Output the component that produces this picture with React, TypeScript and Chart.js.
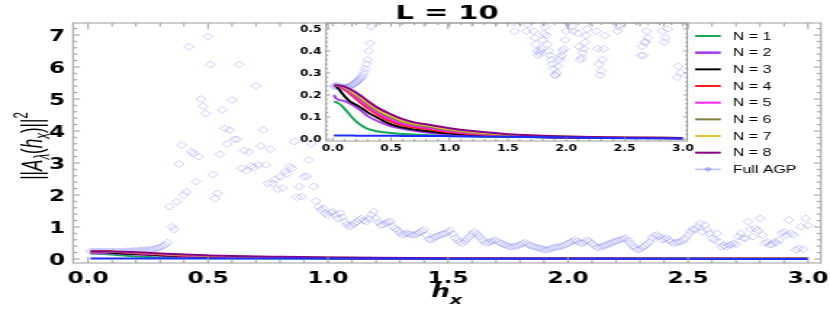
import React, { useEffect, useRef } from 'react';
import { Chart, registerables } from 'chart.js';
Chart.register(...registerables);

// horizontal stretch of the figure (internal canvas width 572 shown at 830 px)
const S = 830 / 572;

const TITLE = 'L = 10';
const X_TICKS = [0, 0.5, 1, 1.5, 2, 2.5, 3];
const Y_TICKS = [0, 1, 2, 3, 4, 5, 6, 7];
const INSET_X_TICKS = [0, 0.5, 1, 1.5, 2, 2.5, 3];
const INSET_Y_TICKS = [0, 0.1, 0.2, 0.3, 0.4, 0.5];

// h_x sample positions of the N-curves
const H_LINE = [0.01, 0.03, 0.05, 0.08, 0.1, 0.15, 0.2, 0.25, 0.3, 0.4, 0.5, 0.6, 0.7, 0.8, 1.0, 1.2, 1.5, 2.0, 2.5, 3.0];
const N1 = [0.170, 0.168, 0.162, 0.150, 0.138, 0.108, 0.080, 0.060, 0.046, 0.033, 0.027, 0.023, 0.020, 0.018, 0.014, 0.012, 0.010, 0.007, 0.005, 0.004];
const N2 = [0.200, 0.184, 0.178, 0.175, 0.172, 0.160, 0.144, 0.126, 0.104, 0.078, 0.058, 0.046, 0.037, 0.030, 0.021, 0.016, 0.011, 0.007, 0.005, 0.004];
const N3 = [0.242, 0.240, 0.228, 0.208, 0.195, 0.170, 0.156, 0.140, 0.121, 0.092, 0.066, 0.052, 0.043, 0.036, 0.025, 0.018, 0.012, 0.007, 0.005, 0.004];
const N4 = [0.243, 0.242, 0.240, 0.233, 0.226, 0.204, 0.182, 0.160, 0.139, 0.105, 0.079, 0.062, 0.052, 0.045, 0.031, 0.022, 0.014, 0.008, 0.005, 0.004];
const N5 = [0.243, 0.242, 0.241, 0.236, 0.230, 0.211, 0.189, 0.168, 0.147, 0.113, 0.088, 0.069, 0.058, 0.051, 0.035, 0.025, 0.016, 0.009, 0.006, 0.004];
const N6 = [0.243, 0.243, 0.242, 0.238, 0.234, 0.218, 0.198, 0.178, 0.157, 0.122, 0.097, 0.077, 0.064, 0.057, 0.040, 0.029, 0.018, 0.010, 0.006, 0.005];
const N7 = [0.243, 0.243, 0.242, 0.239, 0.236, 0.222, 0.204, 0.185, 0.164, 0.129, 0.104, 0.083, 0.069, 0.062, 0.044, 0.032, 0.020, 0.011, 0.007, 0.005];
const N8 = [0.243, 0.243, 0.243, 0.240, 0.238, 0.226, 0.211, 0.193, 0.173, 0.138, 0.112, 0.090, 0.075, 0.067, 0.049, 0.036, 0.022, 0.012, 0.007, 0.005];
const BLUE = [0.016, 0.016, 0.016, 0.016, 0.016, 0.016, 0.015, 0.015, 0.015, 0.015, 0.015, 0.014, 0.014, 0.014, 0.013, 0.012, 0.010, 0.007, 0.004, 0.002];

// Full AGP, h_x = 0.01 ... 3.00 in steps of 0.01
const AGP_H = Array.from({ length: 300 }, (_, i) => (i + 1) / 100);
const AGP = [
  0.240, 0.241, 0.241, 0.240, 0.239, 0.238, 0.236, 0.235, 0.234, 0.234,
  0.234, 0.235, 0.236, 0.238, 0.240, 0.243, 0.246, 0.249, 0.253, 0.257,
  0.262, 0.267, 0.272, 0.276, 0.282, 0.292, 0.305, 0.320, 0.340, 0.360,
  0.400, 0.435, 0.510, 1.64, 1.01, 0.92, 1.79, 2.97, 3.56, 2.00,
  2.10, 6.63, 3.35, 3.30, 2.42, 3.20, 5.00, 4.78, 4.55, 6.95,
  6.08, 2.64, 1.90, 2.05, 3.27, 4.66, 4.08, 3.59, 4.03, 4.97,
  3.74, 3.74, 6.08, 2.83, 3.39, 2.76, 3.35, 2.91, 2.86, 5.41,
  2.94, 3.53, 4.03, 2.94, 2.36, 3.43, 2.36, 2.49, 2.18, 2.57,
  2.21, 2.73, 2.66, 2.89, 2.83, 3.67, 1.93, 2.26, 1.95, 2.57,
  2.59, 3.09, 3.60, 2.27, 1.81, 1.63, 1.53, 1.58, 1.43, 1.37,
  1.45, 1.48, 1.38, 1.27, 1.43, 1.30, 1.17, 1.08, 1.01, 1.05,
  1.11, 1.16, 1.22, 1.27, 1.20, 1.17, 1.26, 1.38, 1.48, 1.27,
  1.15, 1.06, 1.08, 1.12, 1.16, 1.17, 1.01, 0.95, 0.90, 0.82,
  0.75, 0.78, 0.80, 0.78, 0.76, 0.75, 0.78, 0.82, 0.87, 0.91,
  0.75, 0.62, 0.60, 0.65, 0.70, 0.73, 0.76, 0.78, 0.80, 0.85,
  0.89, 0.78, 0.66, 0.59, 0.53, 0.49, 0.55, 0.63, 0.70, 0.78,
  0.85, 0.78, 0.70, 0.62, 0.55, 0.49, 0.52, 0.55, 0.57, 0.59,
  0.54, 0.49, 0.46, 0.43, 0.40, 0.38, 0.39, 0.40, 0.41, 0.45,
  0.48, 0.51, 0.47, 0.43, 0.40, 0.38, 0.36, 0.34, 0.32, 0.29,
  0.29, 0.30, 0.33, 0.36, 0.37, 0.38, 0.40, 0.41, 0.45, 0.49,
  0.53, 0.56, 0.59, 0.55, 0.51, 0.49, 0.54, 0.59, 0.55, 0.48,
  0.42, 0.36, 0.37, 0.39, 0.41, 0.44, 0.47, 0.50, 0.54, 0.56,
  0.58, 0.61, 0.63, 0.65, 0.58, 0.49, 0.41, 0.34, 0.29, 0.31,
  0.36, 0.41, 0.47, 0.54, 0.66, 0.72, 0.75, 0.70, 0.59, 0.62,
  0.65, 0.60, 0.54, 0.49, 0.51, 0.52, 0.54, 0.59, 0.65, 0.75,
  0.85, 0.93, 0.91, 1.01, 1.11, 0.85, 1.06, 0.91, 0.80, 0.65,
  0.59, 0.80, 0.54, 0.38, 0.42, 0.38, 0.44, 0.44, 0.49, 0.46,
  0.70, 0.80, 0.65, 0.65, 1.17, 0.93, 0.70, 0.96, 0.90, 1.27,
  0.75, 0.49, 0.54, 0.44, 0.46, 0.54, 0.50, 0.59, 0.80, 0.85,
  0.75, 1.22, 0.80, 0.75, 0.28, 0.33, 1.01, 0.30, 1.27, 1.05,
];

const SERIES_LABELS = ['N = 1', 'N = 2', 'N = 3', 'N = 4', 'N = 5', 'N = 6', 'N = 7', 'N = 8'];
const SERIES_VALUES = [N1, N2, N3, N4, N5, N6, N7, N8];
const SERIES_COLORS = ['#17a85a', '#a83cf0', '#000000', '#ff1a1a', '#ff20ff', '#808040', '#e6c43a', '#8b008b'];
const BLUE_COLOR = '#1a2eff';
const AGP_LABEL = 'Full AGP';
const AGP_COLOR = 'rgba(125,125,255,0.38)';

function buildDatasets(): any[] {
  const ds: any[] = SERIES_VALUES.map((vals, i) => ({
    label: SERIES_LABELS[i],
    data: H_LINE.map((h, j) => ({ x: h, y: vals[j] })),
    showLine: true,
    borderColor: SERIES_COLORS[i],
    backgroundColor: SERIES_COLORS[i],
    borderWidth: 2,
    pointRadius: 0,
    cubicInterpolationMode: 'monotone',
    order: 20 - i,
  }));
  ds.push({
    label: '',
    data: H_LINE.map((h, j) => ({ x: h, y: BLUE[j] })),
    showLine: true,
    borderColor: BLUE_COLOR,
    borderWidth: 2,
    pointRadius: 0,
    cubicInterpolationMode: 'monotone',
    order: 1,
  });
  ds.push({
    label: AGP_LABEL,
    data: AGP_H.map((h, j) => ({ x: h, y: AGP[j] })),
    showLine: false,
    pointStyle: 'rectRot',
    pointRadius: 3.4,
    pointBorderWidth: 1,
    borderColor: AGP_COLOR,
    pointBorderColor: AGP_COLOR,
    pointBackgroundColor: 'rgba(0,0,0,0)',
    backgroundColor: 'rgba(0,0,0,0)',
    order: 100,
  });
  return ds;
}

function framePlugin(cfg: any) {
  return {
    id: 'frame_' + cfg.name,
    afterDatasetsDraw(chart: any) {
      const ctx = chart.ctx;
      const a = chart.chartArea;
      const xs = chart.scales.x;
      const ys = chart.scales.y;
      ctx.save();
      ctx.strokeStyle = cfg.frameColor;
      ctx.lineWidth = 1;
      ctx.strokeRect(a.left, a.top, a.right - a.left, a.bottom - a.top);
      ctx.beginPath();
      const x0 = Math.ceil(xs.min / cfg.xMinor - 1e-6);
      const x1 = Math.floor(xs.max / cfg.xMinor + 1e-6);
      for (let k = x0; k <= x1; k++) {
        const v = k * cfg.xMinor;
        const maj = cfg.xTicks.some((t: number) => Math.abs(t - v) < 1e-6);
        const L = maj ? cfg.vMajor : cfg.vMinor;
        const px = xs.getPixelForValue(v);
        ctx.moveTo(px, a.bottom);
        ctx.lineTo(px, a.bottom - L);
        ctx.moveTo(px, a.top);
        ctx.lineTo(px, a.top + L);
      }
      const y0 = Math.ceil(ys.min / cfg.yMinor - 1e-6);
      const y1 = Math.floor(ys.max / cfg.yMinor + 1e-6);
      for (let k = y0; k <= y1; k++) {
        const v = k * cfg.yMinor;
        const maj = cfg.yTicks.some((t: number) => Math.abs(t - v) < 1e-6);
        const L = maj ? cfg.hMajor : cfg.hMinor;
        const py = ys.getPixelForValue(v);
        ctx.moveTo(a.left, py);
        ctx.lineTo(a.left + L, py);
        ctx.moveTo(a.right, py);
        ctx.lineTo(a.right - L, py);
      }
      ctx.stroke();
      ctx.fillStyle = '#000';
      ctx.font = cfg.font;
      ctx.textAlign = 'center';
      ctx.textBaseline = 'alphabetic';
      cfg.xTicks.forEach((t: number) => ctx.fillText(cfg.xFmt(t), xs.getPixelForValue(t), cfg.xLabelY));
      ctx.textAlign = 'right';
      cfg.yTicks.forEach((t: number) => ctx.fillText(cfg.yFmt(t), cfg.yLabelX, ys.getPixelForValue(t) + cfg.yLabelDy));
      ctx.restore();
    },
  };
}

const decorPlugin = {
  id: 'mainDecor',
  afterDraw(chart: any) {
    const ctx = chart.ctx;
    const a = chart.chartArea;
    ctx.save();
    ctx.fillStyle = '#000';
    // title
    ctx.font = 'bold 20px "DejaVu Sans"';
    ctx.textAlign = 'center';
    ctx.textBaseline = 'alphabetic';
    ctx.fillText(TITLE, (a.left + a.right) / 2, 18.5);
    // x title
    ctx.textAlign = 'left';
    const fh = 'italic bold 18px "DejaVu Sans"';
    const fx = 'italic bold 13px "DejaVu Sans"';
    ctx.font = fh;
    const wh = ctx.measureText('h').width;
    ctx.font = fx;
    const wx = ctx.measureText('x').width;
    const cx = 446.7 / S;
    const sx = cx - (wh + wx) / 2;
    ctx.font = fh;
    ctx.fillText('h', sx, 297);
    ctx.font = fx;
    ctx.fillText('x', sx + wh, 304);
    // y title (rotated)
    const big = '17px "Liberation Sans"';
    const bigI = 'italic 17px "Liberation Sans"';
    const sm = '11.5px "Liberation Sans"';
    const smI = 'italic 11.5px "Liberation Sans"';
    const pieces = [
      { t: '||', f: big, dy: 0 },
      { t: 'A', f: bigI, dy: 0 },
      { t: 'λ', f: smI, dy: 4 },
      { t: '(', f: big, dy: 0 },
      { t: 'h', f: bigI, dy: 0 },
      { t: 'x', f: smI, dy: 4 },
      { t: ')||', f: big, dy: 0 },
      { t: '2', f: sm, dy: -8 },
    ];
    let total = 0;
    const widths = pieces.map((p) => {
      ctx.font = p.f;
      const w = ctx.measureText(p.t).width;
      total += w;
      return w;
    });
    ctx.translate(42 / S, 146);
    ctx.rotate(-Math.PI / 2);
    ctx.scale(1, 1.22);
    let px = -total / 2;
    pieces.forEach((p, i) => {
      ctx.font = p.f;
      ctx.fillText(p.t, px, p.dy);
      px += widths[i];
    });
    ctx.setTransform(1, 0, 0, 1, 0, 0);
    // legend
    const ds = chart.data.datasets;
    const sw0 = 695 / S;
    const sw1 = 720.7 / S;
    const tx = 732.7 / S;
    ctx.font = '11px "Liberation Sans"';
    ctx.textBaseline = 'middle';
    ctx.textAlign = 'left';
    const entries = ds.filter((d: any) => d.label);
    entries.forEach((d: any, i: number) => {
      const y = 36 + i * 16.67;
      ctx.beginPath();
      ctx.moveTo(sw0, y);
      ctx.lineTo(sw1, y);
      ctx.strokeStyle = d.showLine ? d.borderColor : 'rgba(125,125,255,0.5)';
      ctx.lineWidth = d.showLine ? (d.label === 'N = 2' ? 2.6 : 2) : 1.5;
      ctx.stroke();
      if (!d.showLine) {
        const mx = (sw0 + sw1) / 2;
        ctx.beginPath();
        ctx.moveTo(mx - 2.2, y);
        ctx.lineTo(mx, y - 2.2);
        ctx.lineTo(mx + 2.2, y);
        ctx.lineTo(mx, y + 2.2);
        ctx.closePath();
        ctx.fillStyle = 'rgba(125,125,255,0.5)';
        ctx.fill();
        ctx.lineWidth = 1;
        ctx.stroke();
      }
      ctx.fillStyle = '#000';
      ctx.fillText(d.label, tx, y + 0.5);
    });
    ctx.restore();
  },
};

export default function App() {
  const mainRef = useRef<HTMLCanvasElement>(null);
  const insetRef = useRef<HTMLCanvasElement>(null);

  useEffect(() => {
    const mainCfg = {
      name: 'main',
      frameColor: '#9c9c9c',
      xTicks: X_TICKS,
      yTicks: Y_TICKS,
      xMinor: 0.1,
      yMinor: 0.2,
      vMajor: 6,
      vMinor: 3.5,
      hMajor: 4.8,
      hMinor: 2.8,
      font: 'bold 16px "DejaVu Sans"',
      xLabelY: 282.7,
      yLabelX: 65 / S,
      yLabelDy: 5.8,
      xFmt: (v: number) => v.toFixed(1),
      yFmt: (v: number) => String(v),
    };
    const insetCfg = {
      name: 'inset',
      frameColor: '#9c9c9c',
      xTicks: INSET_X_TICKS,
      yTicks: INSET_Y_TICKS,
      xMinor: 0.1,
      yMinor: 0.02,
      vMajor: 3.5,
      vMinor: 2,
      hMajor: 2.8,
      hMinor: 1.5,
      font: 'bold 8.5px "DejaVu Sans"',
      xLabelY: 136.4,
      yLabelX: 28.7,
      yLabelDy: 3.1,
      xFmt: (v: number) => v.toFixed(1),
      yFmt: (v: number) => v.toFixed(1),
    };
    const common = (padding: any, xr: number[], yr: number[]) => ({
      animation: false as const,
      responsive: false,
      devicePixelRatio: 1,
      layout: { padding },
      scales: {
        x: { type: 'linear' as const, min: xr[0], max: xr[1], display: false },
        y: { type: 'linear' as const, min: yr[0], max: yr[1], display: false },
      },
      plugins: { legend: { display: false }, tooltip: { enabled: false }, title: { display: false } },
      events: [] as any[],
    });
    const main = new Chart(mainRef.current as HTMLCanvasElement, {
      type: 'scatter',
      data: { datasets: buildDatasets() },
      options: common({ left: 73 / S, right: 572 - 821 / S, top: 23, bottom: 48 }, [-0.0625, 3.0542], [-0.125, 7.375]) as any,
      plugins: [framePlugin(mainCfg), decorPlugin],
    });
    const inset = new Chart(insetRef.current as HTMLCanvasElement, {
      type: 'scatter',
      data: { datasets: buildDatasets() },
      options: common({ left: (326 - 280) / S, right: 290 - (687 - 280) / S, top: 8, bottom: 19 }, [-0.057, 3.036], [-0.009, 0.527]) as any,
      plugins: [framePlugin(insetCfg)],
    });
    return () => {
      main.destroy();
      inset.destroy();
    };
  }, []);

  return (
    <div style={{ position: 'absolute', left: 0, top: 0, width: 830, height: 311, background: '#fff', overflow: 'hidden' }}>
      <canvas
        ref={mainRef}
        width={572}
        height={311}
        style={{ position: 'absolute', left: 0, top: 0, width: '830px', height: '311px' }}
      />
      <canvas
        ref={insetRef}
        width={290}
        height={145}
        style={{ position: 'absolute', left: 280, top: 15, width: `${290 * S}px`, height: '145px' }}
      />
    </div>
  );
}
